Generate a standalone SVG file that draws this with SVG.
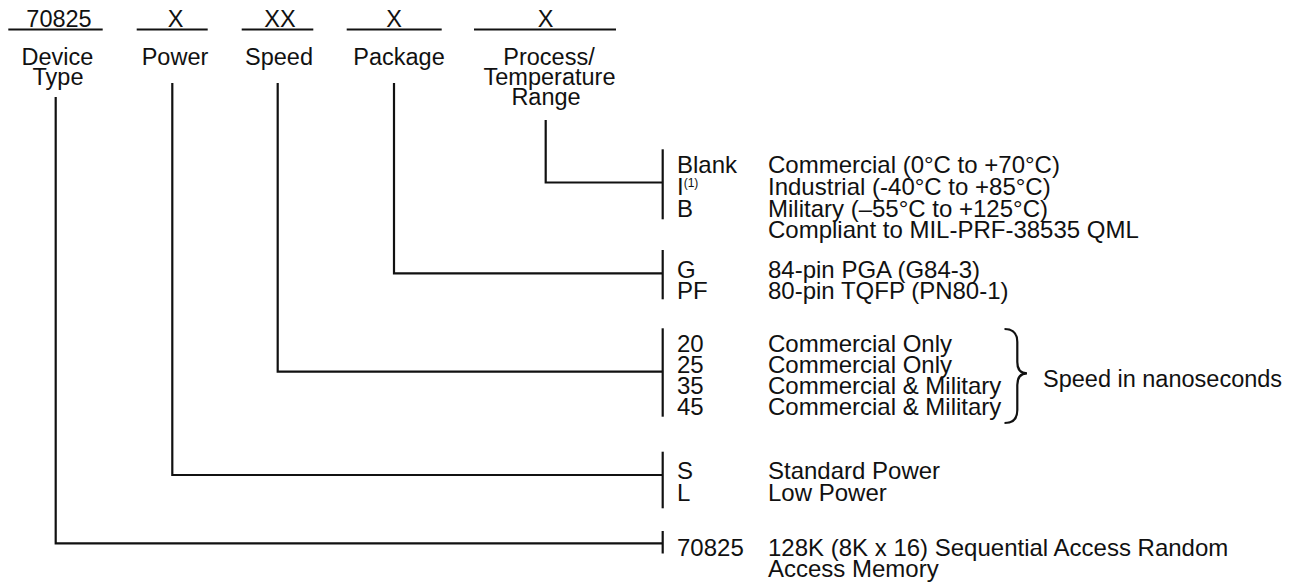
<svg xmlns="http://www.w3.org/2000/svg" width="1297" height="583" viewBox="0 0 1297 583">
<style>
text{font-family:"Liberation Sans",Arial,sans-serif;fill:#111;}
.h{font-size:23.5px;text-anchor:middle;}
.r{font-size:24px;}
.ln{stroke:#111;stroke-width:2.2;fill:none;}
</style>
<rect width="1297" height="583" fill="#fff"/>
<g id="header">
  <g id="field-device">
    <text class="h" x="59" y="26.7">70825</text>
    <line class="ln" x1="8.3" y1="29.5" x2="102.7" y2="29.5"/>
    <text class="h" x="57.5" y="65.3">Device</text>
    <text class="h" x="58" y="85">Type</text>
  </g>
  <g id="field-power">
    <text class="h" x="175.5" y="26.7">X</text>
    <line class="ln" x1="136.7" y1="29.5" x2="207.7" y2="29.5"/>
    <text class="h" x="175" y="65.3">Power</text>
  </g>
  <g id="field-speed">
    <text class="h" x="280" y="26.7">XX</text>
    <line class="ln" x1="241.7" y1="29.5" x2="313.3" y2="29.5"/>
    <text class="h" x="279" y="65.3">Speed</text>
  </g>
  <g id="field-package">
    <text class="h" x="394" y="26.7">X</text>
    <line class="ln" x1="346.7" y1="29.5" x2="441.7" y2="29.5"/>
    <text class="h" x="399" y="65.3">Package</text>
  </g>
  <g id="field-process">
    <text class="h" x="545.7" y="26.7">X</text>
    <line class="ln" x1="474" y1="29.5" x2="616" y2="29.5"/>
    <text class="h" x="549" y="65.3">Process/</text>
    <text class="h" x="549.5" y="85">Temperature</text>
    <text class="h" x="546" y="105">Range</text>
  </g>
</g>
<g id="connectors">
  <path class="ln" d="M55.7,97 V543.3 H662.7"/>
  <path class="ln" d="M172.3,83 V475 H662.7"/>
  <path class="ln" d="M277.7,83 V371.7 H662.7"/>
  <path class="ln" d="M394,83 V273.3 H662.7"/>
  <path class="ln" d="M545.7,120 V182.5 H662.7"/>
</g>
<g id="opt-process">
  <line class="ln" x1="662.7" y1="149.3" x2="662.7" y2="219.3"/>
  <text class="r" x="677" y="173.3">Blank</text>
  <text class="r" x="677" y="195">I<tspan font-size="12" dy="-8">(1)</tspan></text>
  <text class="r" x="677" y="216.7">B</text>
  <text class="r" x="768" y="173.3">Commercial (0°C to +70°C)</text>
  <text class="r" x="768" y="195">Industrial (-40°C to +85°C)</text>
  <text class="r" x="768" y="216.7">Military (–55°C to +125°C)</text>
  <text class="r" x="768" y="238.3">Compliant to MIL-PRF-38535 QML</text>
</g>
<g id="opt-package">
  <line class="ln" x1="662.7" y1="250" x2="662.7" y2="299.3"/>
  <text class="r" x="677" y="278.3">G</text>
  <text class="r" x="677" y="299.3">PF</text>
  <text class="r" x="768" y="278.3">84-pin PGA (G84-3)</text>
  <text class="r" x="768" y="299.3">80-pin TQFP (PN80-1)</text>
</g>
<g id="opt-speed">
  <line class="ln" x1="662.7" y1="328.3" x2="662.7" y2="416.7"/>
  <text class="r" x="677" y="351.5">20</text>
  <text class="r" x="677" y="372.5">25</text>
  <text class="r" x="677" y="393.5">35</text>
  <text class="r" x="677" y="414.5">45</text>
  <text class="r" x="768" y="351.5">Commercial Only</text>
  <text class="r" x="768" y="372.5">Commercial Only</text>
  <text class="r" x="768" y="393.5">Commercial &amp; Military</text>
  <text class="r" x="768" y="414.5">Commercial &amp; Military</text>
  <path class="ln" d="M1004.5,329 Q1017.3,329 1017.3,342 L1017.3,362 Q1017.3,373.3 1027,373.3 Q1017.3,373.3 1017.3,385 L1017.3,410 Q1017.3,423 1004.5,423"/>
  <text class="r" x="1043" y="387" style="font-size:23.5px">Speed in nanoseconds</text>
</g>
<g id="opt-power">
  <line class="ln" x1="662.7" y1="451.7" x2="662.7" y2="508.3"/>
  <text class="r" x="677" y="479">S</text>
  <text class="r" x="677" y="500.5">L</text>
  <text class="r" x="768" y="479">Standard Power</text>
  <text class="r" x="768" y="500.5">Low Power</text>
</g>
<g id="opt-device">
  <line class="ln" x1="662.7" y1="531" x2="662.7" y2="553.5"/>
  <text class="r" x="677" y="556">70825</text>
  <text class="r" x="768" y="556">128K (8K x 16) Sequential Access Random</text>
  <text class="r" x="768" y="577">Access Memory</text>
</g>
</svg>
